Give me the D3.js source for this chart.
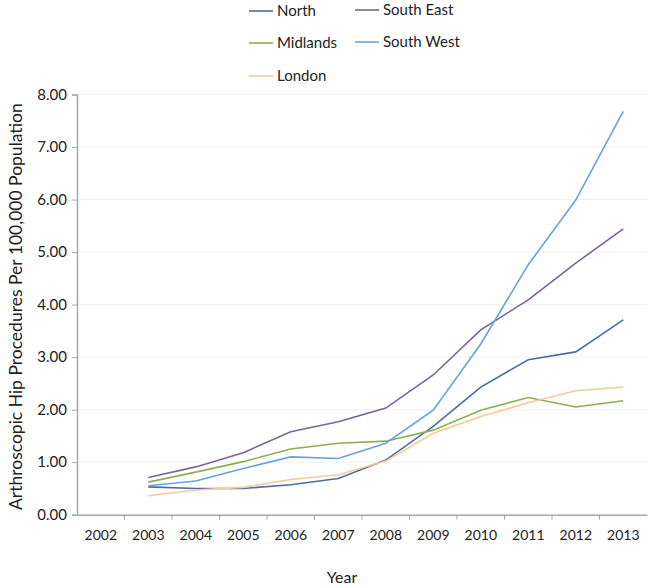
<!DOCTYPE html>
<html><head><meta charset="utf-8">
<script src="https://cdn.jsdelivr.net/npm/d3@7"></script>
<style>body{margin:0;background:#fff;} text{font-family:Lato,"Open Sans",sans-serif;fill:#222;}</style>
</head><body>
<svg id="c" width="650" height="587"></svg>
<script>
const years = ["2002","2003","2004","2005","2006","2007","2008","2009","2010","2011","2012","2013"];
const dataYears = ["2003","2004","2005","2006","2007","2008","2009","2010","2011","2012","2013"];
const north     = [0.53,0.50,0.50,0.57,0.69,1.04,1.68,2.43,2.95,3.10,3.71];
const southEast = [0.71,0.91,1.18,1.58,1.77,2.03,2.66,3.52,4.09,4.79,5.44];
const midlands  = [0.62,0.81,1.01,1.25,1.36,1.40,1.61,1.99,2.23,2.05,2.17];
const southWest = [0.55,0.64,0.88,1.10,1.07,1.36,1.99,3.25,4.76,5.99,7.68];
const london    = [0.36,0.47,0.52,0.67,0.76,1.02,1.55,1.87,2.13,2.36,2.43];
const yTicks = [0,1,2,3,4,5,6,7,8];

const series = [
  {name:"North", values:north, color:"#4a6ea3"},
  {name:"South East", values:southEast, color:"#7c6495"},
  {name:"Midlands", values:midlands, color:"#8caf55"},
  {name:"South West", values:southWest, color:"#68a2e0"},
  {name:"London", values:london, color:"#f8c89a"}
];

const svg = d3.select("#c");
const L = 77, R = 647, T = 94.5, B = 514.7;
const x = d3.scaleBand().domain(years).range([L, R]);
const y = d3.scaleLinear().domain([0, 8]).range([B, T]);

// gridlines
svg.append("g").selectAll("line").data(yTicks.slice(1)).join("line")
  .attr("x1", L).attr("x2", R).attr("y1", d => y(d)).attr("y2", d => y(d))
  .attr("stroke", "#f1f1f1").attr("stroke-width", 1);

// y axis
const ya = svg.append("g").attr("transform", `translate(${L},0)`)
  .call(d3.axisLeft(y).tickValues(yTicks).tickFormat(d3.format(".2f")).tickSize(5).tickPadding(5));
ya.select(".domain").attr("stroke", "#a8a8a8").attr("stroke-width", 1.5);
ya.selectAll(".tick line").attr("stroke", "#a8a8a8");
ya.selectAll("text").style("font-size", "15px").attr("fill", "#222");

// x axis
const xa = svg.append("g").attr("transform", `translate(0,${B})`)
  .call(d3.axisBottom(x).tickSize(0).tickPadding(15));
xa.select(".domain").attr("stroke", "#a8a8a8").attr("stroke-width", 1.5);
xa.selectAll("text").style("font-size", "14px").attr("fill", "#222");
// tick marks at band boundaries
svg.append("g").selectAll("line").data(years.slice(1)).join("line")
  .attr("x1", d => x(d)).attr("x2", d => x(d)).attr("y1", B).attr("y2", B + 5)
  .attr("stroke", "#a8a8a8");

// lines
const line = d3.line().x((d, i) => x(dataYears[i]) + x.bandwidth() / 2).y(d => y(d));
svg.append("g").selectAll("path").data(series).join("path")
  .attr("d", d => line(d.values)).attr("fill", "none")
  .attr("stroke", d => d.color).attr("stroke-width", 1.6);

// legend
const legPos = [
  {s:0, x:249, y:11}, {s:1, x:355, y:10},
  {s:2, x:249, y:43}, {s:3, x:355, y:42},
  {s:4, x:249, y:76}
];
const lg = svg.append("g");
legPos.forEach(p => {
  const s = series[p.s];
  lg.append("line").attr("x1", p.x).attr("x2", p.x + 24).attr("y1", p.y).attr("y2", p.y)
    .attr("stroke", s.color).attr("stroke-width", 1.6);
  lg.append("text").attr("x", p.x + 28).attr("y", p.y).attr("dy", "0.35em")
    .style("font-size", "15px").text(s.name);
});

// axis titles
svg.append("text").attr("transform", `translate(16,${(T + B) / 2 + 2}) rotate(-90)`)
  .attr("text-anchor", "middle").attr("dy", "0.35em").style("font-size", "17.5px")
  .text("Arthroscopic Hip Procedures Per 100,000 Population");
svg.append("text").attr("x", 342).attr("y", 577).attr("text-anchor", "middle")
  .attr("dy", "0.35em").style("font-size", "16px").text("Year");
</script>
</body></html>
